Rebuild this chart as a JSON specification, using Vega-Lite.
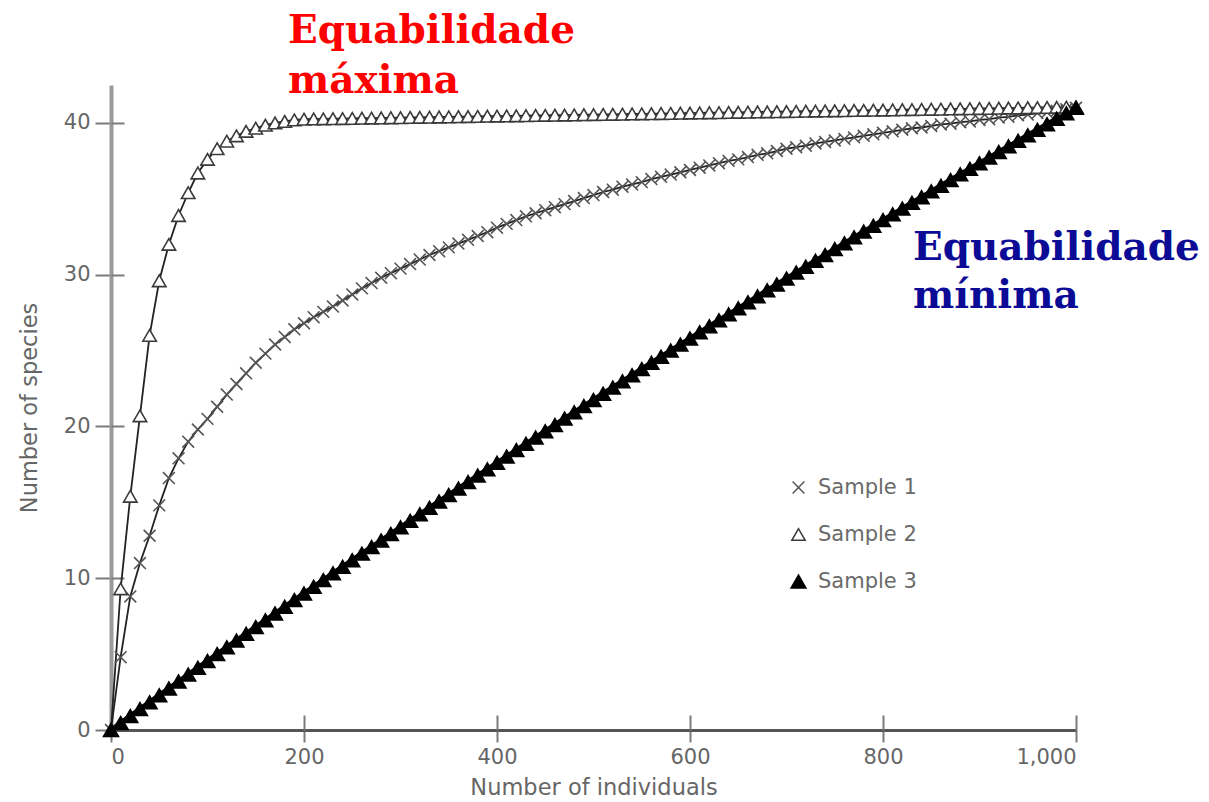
{
  "$schema": "https://vega.github.io/schema/vega-lite/v6.json",
  "width": 965,
  "height": 645,
  "autosize": {"type": "none"},
  "padding": {"left": 111, "top": 85, "right": 133, "bottom": 72},
  "background": "white",
  "config": {
    "view": {"stroke": null},
    "axis": {"grid": false}
  },
  "datasets": {
    "curves": [
      {"s":"Sample 1","n":0,"y":0},{"s":"Sample 1","n":10,"y":4.8},{"s":"Sample 1","n":20,"y":8.8},{"s":"Sample 1","n":30,"y":11.0},{"s":"Sample 1","n":40,"y":12.8},{"s":"Sample 1","n":50,"y":14.8},{"s":"Sample 1","n":60,"y":16.6},{"s":"Sample 1","n":70,"y":17.9},{"s":"Sample 1","n":80,"y":19.0},{"s":"Sample 1","n":90,"y":19.8},
      {"s":"Sample 1","n":100,"y":20.5},{"s":"Sample 1","n":110,"y":21.3},{"s":"Sample 1","n":120,"y":22.1},{"s":"Sample 1","n":130,"y":22.8},{"s":"Sample 1","n":140,"y":23.5},{"s":"Sample 1","n":150,"y":24.2},{"s":"Sample 1","n":160,"y":24.8},{"s":"Sample 1","n":170,"y":25.4},{"s":"Sample 1","n":180,"y":25.9},{"s":"Sample 1","n":190,"y":26.4},
      {"s":"Sample 1","n":200,"y":26.8},{"s":"Sample 1","n":210,"y":27.2},{"s":"Sample 1","n":220,"y":27.55},{"s":"Sample 1","n":230,"y":27.9},{"s":"Sample 1","n":240,"y":28.3},{"s":"Sample 1","n":250,"y":28.7},{"s":"Sample 1","n":260,"y":29.1},{"s":"Sample 1","n":270,"y":29.45},{"s":"Sample 1","n":280,"y":29.8},{"s":"Sample 1","n":290,"y":30.1},
      {"s":"Sample 1","n":300,"y":30.4},{"s":"Sample 1","n":310,"y":30.7},{"s":"Sample 1","n":320,"y":31.0},{"s":"Sample 1","n":330,"y":31.3},{"s":"Sample 1","n":340,"y":31.55},{"s":"Sample 1","n":350,"y":31.8},{"s":"Sample 1","n":360,"y":32.05},{"s":"Sample 1","n":370,"y":32.3},{"s":"Sample 1","n":380,"y":32.55},{"s":"Sample 1","n":390,"y":32.8},
      {"s":"Sample 1","n":400,"y":33.1},{"s":"Sample 1","n":410,"y":33.35},{"s":"Sample 1","n":420,"y":33.6},{"s":"Sample 1","n":430,"y":33.85},{"s":"Sample 1","n":440,"y":34.05},{"s":"Sample 1","n":450,"y":34.25},{"s":"Sample 1","n":460,"y":34.45},{"s":"Sample 1","n":470,"y":34.65},{"s":"Sample 1","n":480,"y":34.85},{"s":"Sample 1","n":490,"y":35.05},
      {"s":"Sample 1","n":500,"y":35.25},{"s":"Sample 1","n":510,"y":35.45},{"s":"Sample 1","n":520,"y":35.6},{"s":"Sample 1","n":530,"y":35.8},{"s":"Sample 1","n":540,"y":35.95},{"s":"Sample 1","n":550,"y":36.1},{"s":"Sample 1","n":560,"y":36.3},{"s":"Sample 1","n":570,"y":36.45},{"s":"Sample 1","n":580,"y":36.6},{"s":"Sample 1","n":590,"y":36.75},
      {"s":"Sample 1","n":600,"y":36.9},{"s":"Sample 1","n":610,"y":37.05},{"s":"Sample 1","n":620,"y":37.2},{"s":"Sample 1","n":630,"y":37.35},{"s":"Sample 1","n":640,"y":37.5},{"s":"Sample 1","n":650,"y":37.6},{"s":"Sample 1","n":660,"y":37.75},{"s":"Sample 1","n":670,"y":37.9},{"s":"Sample 1","n":680,"y":38.0},{"s":"Sample 1","n":690,"y":38.15},
      {"s":"Sample 1","n":700,"y":38.3},{"s":"Sample 1","n":710,"y":38.4},{"s":"Sample 1","n":720,"y":38.5},{"s":"Sample 1","n":730,"y":38.65},{"s":"Sample 1","n":740,"y":38.75},{"s":"Sample 1","n":750,"y":38.85},{"s":"Sample 1","n":760,"y":38.95},{"s":"Sample 1","n":770,"y":39.05},{"s":"Sample 1","n":780,"y":39.15},{"s":"Sample 1","n":790,"y":39.25},
      {"s":"Sample 1","n":800,"y":39.35},{"s":"Sample 1","n":810,"y":39.45},{"s":"Sample 1","n":820,"y":39.55},{"s":"Sample 1","n":830,"y":39.65},{"s":"Sample 1","n":840,"y":39.7},{"s":"Sample 1","n":850,"y":39.8},{"s":"Sample 1","n":860,"y":39.9},{"s":"Sample 1","n":870,"y":39.95},{"s":"Sample 1","n":880,"y":40.05},{"s":"Sample 1","n":890,"y":40.1},
      {"s":"Sample 1","n":900,"y":40.2},{"s":"Sample 1","n":910,"y":40.25},{"s":"Sample 1","n":920,"y":40.35},{"s":"Sample 1","n":930,"y":40.4},{"s":"Sample 1","n":940,"y":40.5},{"s":"Sample 1","n":950,"y":40.55},{"s":"Sample 1","n":960,"y":40.65},{"s":"Sample 1","n":970,"y":40.7},{"s":"Sample 1","n":980,"y":40.8},{"s":"Sample 1","n":990,"y":40.9},{"s":"Sample 1","n":1000,"y":41.0},

      {"s":"Sample 2","n":0,"y":0},{"s":"Sample 2","n":10,"y":9.3},{"s":"Sample 2","n":20,"y":15.4},{"s":"Sample 2","n":30,"y":20.7},{"s":"Sample 2","n":40,"y":26.0},{"s":"Sample 2","n":50,"y":29.6},{"s":"Sample 2","n":60,"y":32.0},{"s":"Sample 2","n":70,"y":33.9},{"s":"Sample 2","n":80,"y":35.4},{"s":"Sample 2","n":90,"y":36.7},
      {"s":"Sample 2","n":100,"y":37.6},{"s":"Sample 2","n":110,"y":38.3},{"s":"Sample 2","n":120,"y":38.8},{"s":"Sample 2","n":130,"y":39.15},{"s":"Sample 2","n":140,"y":39.45},{"s":"Sample 2","n":150,"y":39.65},{"s":"Sample 2","n":160,"y":39.85},{"s":"Sample 2","n":170,"y":40.0},{"s":"Sample 2","n":180,"y":40.1},{"s":"Sample 2","n":190,"y":40.2},
      {"s":"Sample 2","n":200,"y":40.25},{"s":"Sample 2","n":210,"y":40.26},{"s":"Sample 2","n":220,"y":40.27},{"s":"Sample 2","n":230,"y":40.28},{"s":"Sample 2","n":240,"y":40.29},{"s":"Sample 2","n":250,"y":40.3},{"s":"Sample 2","n":260,"y":40.31},{"s":"Sample 2","n":270,"y":40.32},{"s":"Sample 2","n":280,"y":40.33},{"s":"Sample 2","n":290,"y":40.34},
      {"s":"Sample 2","n":300,"y":40.35},{"s":"Sample 2","n":310,"y":40.36},{"s":"Sample 2","n":320,"y":40.37},{"s":"Sample 2","n":330,"y":40.38},{"s":"Sample 2","n":340,"y":40.39},{"s":"Sample 2","n":350,"y":40.4},{"s":"Sample 2","n":360,"y":40.41},{"s":"Sample 2","n":370,"y":40.42},{"s":"Sample 2","n":380,"y":40.43},{"s":"Sample 2","n":390,"y":40.44},
      {"s":"Sample 2","n":400,"y":40.45},{"s":"Sample 2","n":410,"y":40.46},{"s":"Sample 2","n":420,"y":40.47},{"s":"Sample 2","n":430,"y":40.48},{"s":"Sample 2","n":440,"y":40.49},{"s":"Sample 2","n":450,"y":40.5},{"s":"Sample 2","n":460,"y":40.51},{"s":"Sample 2","n":470,"y":40.52},{"s":"Sample 2","n":480,"y":40.53},{"s":"Sample 2","n":490,"y":40.54},
      {"s":"Sample 2","n":500,"y":40.55},{"s":"Sample 2","n":510,"y":40.56},{"s":"Sample 2","n":520,"y":40.57},{"s":"Sample 2","n":530,"y":40.58},{"s":"Sample 2","n":540,"y":40.59},{"s":"Sample 2","n":550,"y":40.6},{"s":"Sample 2","n":560,"y":40.61},{"s":"Sample 2","n":570,"y":40.62},{"s":"Sample 2","n":580,"y":40.63},{"s":"Sample 2","n":590,"y":40.64},
      {"s":"Sample 2","n":600,"y":40.65},{"s":"Sample 2","n":610,"y":40.66},{"s":"Sample 2","n":620,"y":40.67},{"s":"Sample 2","n":630,"y":40.68},{"s":"Sample 2","n":640,"y":40.69},{"s":"Sample 2","n":650,"y":40.7},{"s":"Sample 2","n":660,"y":40.71},{"s":"Sample 2","n":670,"y":40.72},{"s":"Sample 2","n":680,"y":40.73},{"s":"Sample 2","n":690,"y":40.74},
      {"s":"Sample 2","n":700,"y":40.75},{"s":"Sample 2","n":710,"y":40.76},{"s":"Sample 2","n":720,"y":40.77},{"s":"Sample 2","n":730,"y":40.78},{"s":"Sample 2","n":740,"y":40.79},{"s":"Sample 2","n":750,"y":40.8},{"s":"Sample 2","n":760,"y":40.81},{"s":"Sample 2","n":770,"y":40.82},{"s":"Sample 2","n":780,"y":40.83},{"s":"Sample 2","n":790,"y":40.84},
      {"s":"Sample 2","n":800,"y":40.85},{"s":"Sample 2","n":810,"y":40.86},{"s":"Sample 2","n":820,"y":40.87},{"s":"Sample 2","n":830,"y":40.88},{"s":"Sample 2","n":840,"y":40.89},{"s":"Sample 2","n":850,"y":40.9},{"s":"Sample 2","n":860,"y":40.91},{"s":"Sample 2","n":870,"y":40.92},{"s":"Sample 2","n":880,"y":40.93},{"s":"Sample 2","n":890,"y":40.94},
      {"s":"Sample 2","n":900,"y":40.95},{"s":"Sample 2","n":910,"y":40.96},{"s":"Sample 2","n":920,"y":40.97},{"s":"Sample 2","n":930,"y":40.98},{"s":"Sample 2","n":940,"y":40.99},{"s":"Sample 2","n":950,"y":41.0},{"s":"Sample 2","n":960,"y":41.01},{"s":"Sample 2","n":970,"y":41.02},{"s":"Sample 2","n":980,"y":41.03},{"s":"Sample 2","n":990,"y":41.04},{"s":"Sample 2","n":1000,"y":41.05},

      {"s":"Sample 3","n":0,"y":0},{"s":"Sample 3","n":10,"y":0.46},{"s":"Sample 3","n":20,"y":0.92},{"s":"Sample 3","n":30,"y":1.38},{"s":"Sample 3","n":40,"y":1.83},{"s":"Sample 3","n":50,"y":2.29},{"s":"Sample 3","n":60,"y":2.74},{"s":"Sample 3","n":70,"y":3.2},{"s":"Sample 3","n":80,"y":3.65},{"s":"Sample 3","n":90,"y":4.1},
      {"s":"Sample 3","n":100,"y":4.55},{"s":"Sample 3","n":110,"y":5.0},{"s":"Sample 3","n":120,"y":5.45},{"s":"Sample 3","n":130,"y":5.9},{"s":"Sample 3","n":140,"y":6.34},{"s":"Sample 3","n":150,"y":6.79},{"s":"Sample 3","n":160,"y":7.23},{"s":"Sample 3","n":170,"y":7.68},{"s":"Sample 3","n":180,"y":8.12},{"s":"Sample 3","n":190,"y":8.56},
      {"s":"Sample 3","n":200,"y":9.0},{"s":"Sample 3","n":210,"y":9.44},{"s":"Sample 3","n":220,"y":9.88},{"s":"Sample 3","n":230,"y":10.32},{"s":"Sample 3","n":240,"y":10.75},{"s":"Sample 3","n":250,"y":11.19},{"s":"Sample 3","n":260,"y":11.62},{"s":"Sample 3","n":270,"y":12.06},{"s":"Sample 3","n":280,"y":12.49},{"s":"Sample 3","n":290,"y":12.92},
      {"s":"Sample 3","n":300,"y":13.35},{"s":"Sample 3","n":310,"y":13.78},{"s":"Sample 3","n":320,"y":14.21},{"s":"Sample 3","n":330,"y":14.64},{"s":"Sample 3","n":340,"y":15.06},{"s":"Sample 3","n":350,"y":15.49},{"s":"Sample 3","n":360,"y":15.91},{"s":"Sample 3","n":370,"y":16.34},{"s":"Sample 3","n":380,"y":16.76},{"s":"Sample 3","n":390,"y":17.18},
      {"s":"Sample 3","n":400,"y":17.6},{"s":"Sample 3","n":410,"y":18.02},{"s":"Sample 3","n":420,"y":18.44},{"s":"Sample 3","n":430,"y":18.86},{"s":"Sample 3","n":440,"y":19.27},{"s":"Sample 3","n":450,"y":19.69},{"s":"Sample 3","n":460,"y":20.1},{"s":"Sample 3","n":470,"y":20.52},{"s":"Sample 3","n":480,"y":20.93},{"s":"Sample 3","n":490,"y":21.34},
      {"s":"Sample 3","n":500,"y":21.75},{"s":"Sample 3","n":510,"y":22.16},{"s":"Sample 3","n":520,"y":22.57},{"s":"Sample 3","n":530,"y":22.98},{"s":"Sample 3","n":540,"y":23.38},{"s":"Sample 3","n":550,"y":23.79},{"s":"Sample 3","n":560,"y":24.19},{"s":"Sample 3","n":570,"y":24.6},{"s":"Sample 3","n":580,"y":25.0},{"s":"Sample 3","n":590,"y":25.4},
      {"s":"Sample 3","n":600,"y":25.8},{"s":"Sample 3","n":610,"y":26.2},{"s":"Sample 3","n":620,"y":26.6},{"s":"Sample 3","n":630,"y":27.0},{"s":"Sample 3","n":640,"y":27.39},{"s":"Sample 3","n":650,"y":27.79},{"s":"Sample 3","n":660,"y":28.18},{"s":"Sample 3","n":670,"y":28.58},{"s":"Sample 3","n":680,"y":28.97},{"s":"Sample 3","n":690,"y":29.36},
      {"s":"Sample 3","n":700,"y":29.75},{"s":"Sample 3","n":710,"y":30.14},{"s":"Sample 3","n":720,"y":30.53},{"s":"Sample 3","n":730,"y":30.92},{"s":"Sample 3","n":740,"y":31.3},{"s":"Sample 3","n":750,"y":31.69},{"s":"Sample 3","n":760,"y":32.07},{"s":"Sample 3","n":770,"y":32.46},{"s":"Sample 3","n":780,"y":32.84},{"s":"Sample 3","n":790,"y":33.22},
      {"s":"Sample 3","n":800,"y":33.6},{"s":"Sample 3","n":810,"y":33.98},{"s":"Sample 3","n":820,"y":34.36},{"s":"Sample 3","n":830,"y":34.74},{"s":"Sample 3","n":840,"y":35.11},{"s":"Sample 3","n":850,"y":35.49},{"s":"Sample 3","n":860,"y":35.86},{"s":"Sample 3","n":870,"y":36.24},{"s":"Sample 3","n":880,"y":36.61},{"s":"Sample 3","n":890,"y":36.98},
      {"s":"Sample 3","n":900,"y":37.35},{"s":"Sample 3","n":910,"y":37.72},{"s":"Sample 3","n":920,"y":38.09},{"s":"Sample 3","n":930,"y":38.46},{"s":"Sample 3","n":940,"y":38.82},{"s":"Sample 3","n":950,"y":39.19},{"s":"Sample 3","n":960,"y":39.55},{"s":"Sample 3","n":970,"y":39.92},{"s":"Sample 3","n":980,"y":40.28},{"s":"Sample 3","n":990,"y":40.64},{"s":"Sample 3","n":1000,"y":41.0}
    ]
  },
  "data": {"name": "curves"},
  "layer": [
    {
      "transform": [{"filter": "datum.s !== 'Sample 3'"}],
      "mark": {"type": "line", "color": "#222222", "strokeWidth": 1.8},
      "encoding": {
        "x": {
          "field": "n", "type": "quantitative",
          "scale": {"domain": [0, 1000], "nice": false},
          "axis": {
            "values": [0, 200, 400, 600, 800, 1000], "format": ",d", "labelFlush": true,
            "tickSize": 12, "tickWidth": 2, "tickColor": "#7a7a7a",
            "domainColor": "#555555", "domainWidth": 3,
            "labelFont": "DejaVu Sans", "labelFontSize": 21, "labelColor": "#666666", "labelPadding": 4,
            "title": "Number of individuals", "titleFont": "DejaVu Sans", "titleFontSize": 22.5,
            "titleFontWeight": "normal", "titleColor": "#666666", "titlePadding": 9
          }
        },
        "y": {
          "field": "y", "type": "quantitative",
          "scale": {"domain": [0, 42.5], "nice": false},
          "axis": {
            "values": [0, 10, 20, 30, 40],
            "tickSize": 16, "tickWidth": 2, "tickColor": "#7a7a7a",
            "domainColor": "#9a9a9a", "domainWidth": 4,
            "labelFont": "DejaVu Sans", "labelFontSize": 21, "labelColor": "#666666", "labelPadding": 5,
            "title": "Number of species", "titleFont": "DejaVu Sans", "titleFontSize": 22.5,
            "titleFontWeight": "normal", "titleColor": "#666666", "titlePadding": 22
          }
        },
        "detail": {"field": "s"}
      }
    },
    {
      "transform": [{"filter": "datum.s === 'Sample 3'"}],
      "mark": {"type": "line", "color": "#000000", "strokeWidth": 5},
      "encoding": {
        "x": {"field": "n", "type": "quantitative", "scale": {"domain": [0, 1000], "nice": false}, "axis": null},
        "y": {"field": "y", "type": "quantitative", "scale": {"domain": [0, 42.5], "nice": false}, "axis": null}
      }
    },
    {
      "mark": {"type": "point", "opacity": 1, "strokeWidth": 1.6},
      "encoding": {
        "x": {
          "field": "n", "type": "quantitative",
          "scale": {"domain": [0, 1000], "nice": false},
          "axis": {"orient": "bottom", "values": [200, 400, 600, 800, 1000], "tickSize": -15, "tickWidth": 2, "tickColor": "#7a7a7a", "labels": false, "domain": false, "title": null}
        },
        "y": {
          "field": "y", "type": "quantitative",
          "scale": {"domain": [0, 42.5], "nice": false},
          "axis": {"orient": "left", "values": [10, 20, 30, 40], "tickSize": -13, "tickWidth": 2, "tickColor": "#7a7a7a", "labels": false, "domain": false, "title": null}
        },
        "shape": {
          "field": "s", "type": "nominal", "title": null,
          "scale": {"domain": ["Sample 1", "Sample 2", "Sample 3"], "range": ["M-1,-1L1,1M-1,1L1,-1", "triangle-up", "triangle-up"]},
          "legend": {"orient": "none", "legendX": 677, "legendY": 392, "labelFont": "DejaVu Sans", "labelFontSize": 21, "labelColor": "#6a6a6a", "rowPadding": 25, "labelOffset": 9}
        },
        "fill": {
          "field": "s", "type": "nominal", "title": null,
          "scale": {"domain": ["Sample 1", "Sample 2", "Sample 3"], "range": ["#ffffff", "#ffffff", "#000000"]}
        },
        "stroke": {
          "field": "s", "type": "nominal", "title": null,
          "scale": {"domain": ["Sample 1", "Sample 2", "Sample 3"], "range": ["#555555", "#3a3a3a", "#000000"]}
        },
        "size": {
          "field": "s", "type": "nominal", "title": null,
          "scale": {"domain": ["Sample 1", "Sample 2", "Sample 3"], "range": [140, 220, 220]}
        }
      }
    },
    {
      "data": {"values": [{}]},
      "mark": {"type": "text", "text": "Equabilidade\nmáxima", "lineBreak": "\n", "lineHeight": 50, "font": "DejaVu Serif", "fontWeight": "bold", "fontSize": 39, "color": "#ff0000", "align": "left", "baseline": "alphabetic"},
      "encoding": {
        "x": {"datum": 183.4, "type": "quantitative", "scale": {"domain": [0, 1000], "nice": false}, "axis": null},
        "y": {"datum": 45.27, "type": "quantitative", "scale": {"domain": [0, 42.5], "nice": false}, "axis": null}
      }
    },
    {
      "data": {"values": [{}]},
      "mark": {"type": "text", "text": "Equabilidade\nmínima", "lineBreak": "\n", "lineHeight": 48, "font": "DejaVu Serif", "fontWeight": "bold", "fontSize": 39, "color": "#0b0b96", "align": "left", "baseline": "alphabetic"},
      "encoding": {
        "x": {"datum": 831, "type": "quantitative", "scale": {"domain": [0, 1000], "nice": false}, "axis": null},
        "y": {"datum": 30.97, "type": "quantitative", "scale": {"domain": [0, 42.5], "nice": false}, "axis": null}
      }
    }
  ],
  "resolve": {"axis": {"x": "independent", "y": "independent"}}
}
